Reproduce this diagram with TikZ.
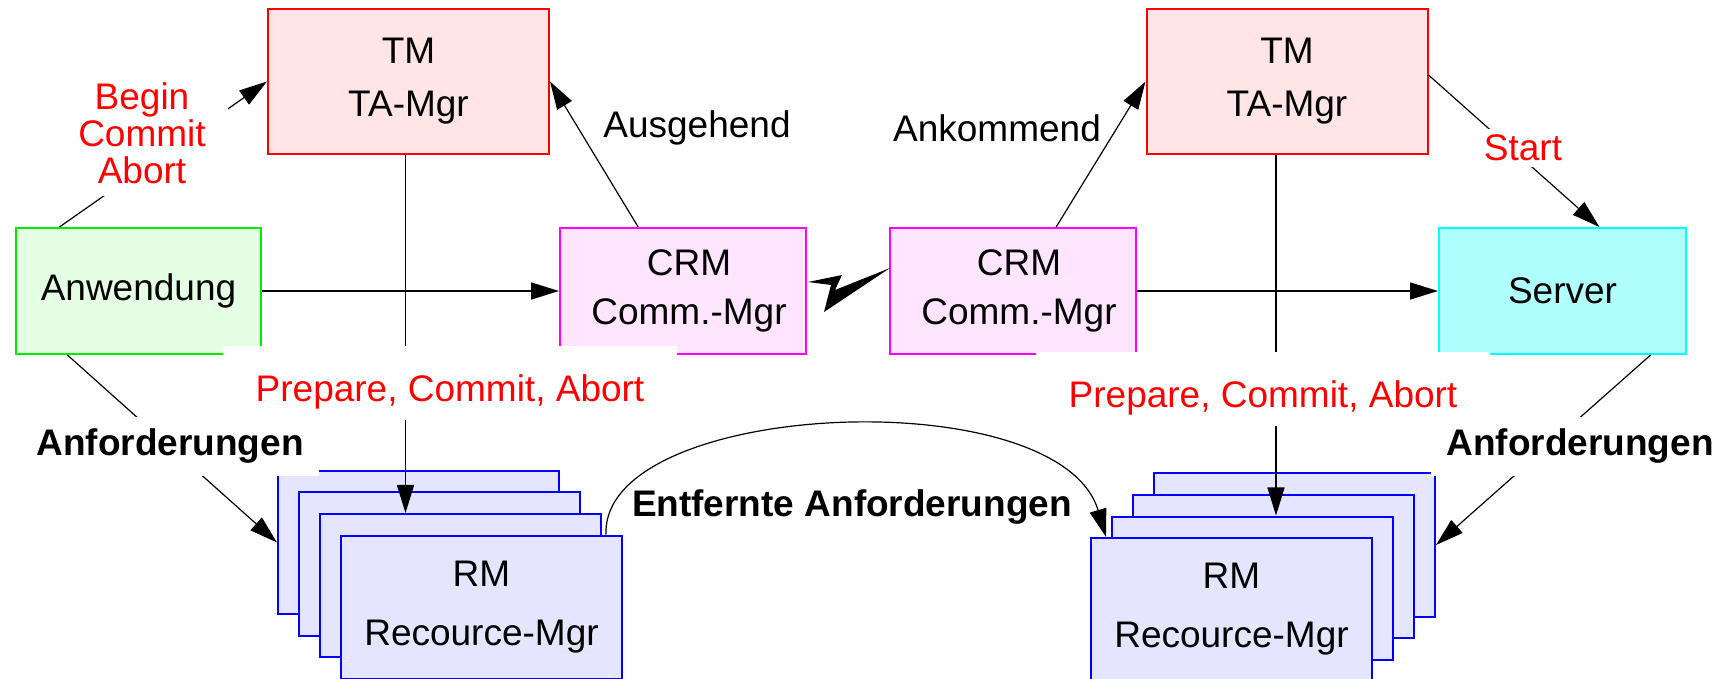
\documentclass[tikz,border=0pt]{standalone}
\usepackage{fontspec}
\setmainfont{Liberation Sans}
\usetikzlibrary{positioning,arrows.meta,calc}
\definecolor{tmfill}{RGB}{255,229,229}
\definecolor{tmdraw}{RGB}{255,0,0}
\definecolor{appfill}{RGB}{229,255,229}
\definecolor{appdraw}{RGB}{0,235,0}
\definecolor{crmfill}{RGB}{255,229,255}
\definecolor{crmdraw}{RGB}{255,0,255}
\definecolor{srvfill}{RGB}{176,255,255}
\definecolor{srvdraw}{RGB}{0,255,255}
\definecolor{rmfill}{RGB}{229,229,255}
\definecolor{rmdraw}{RGB}{0,0,255}
\definecolor{lblred}{RGB}{255,0,0}

\begin{document}
\begin{tikzpicture}[
  x=0.5pt, y=-0.5pt,
  box/.style={draw, line width=1pt, inner sep=0pt, align=center, font=\fontsize{18.5}{24.75}\selectfont},
  tmbox/.style={box, draw=tmdraw, fill=tmfill, minimum width=140.5pt, minimum height=72.5pt, font=\fontsize{18.5}{26.5}\selectfont},
  appbox/.style={box, draw=appdraw, fill=appfill, minimum width=122.5pt, minimum height=63pt},
  crmbox/.style={box, draw=crmdraw, fill=crmfill, minimum width=123pt, minimum height=63pt},
  srvbox/.style={box, draw=srvdraw, fill=srvfill, minimum width=123.5pt, minimum height=63pt},
  rmbox/.style={box, draw=rmdraw, fill=rmfill, minimum width=140.5pt, minimum height=71.5pt, font=\fontsize{18.5}{29.5}\selectfont},
  arr/.style={-{Triangle[length=14pt,width=8.5pt]}, line width=0.8pt},
  slim/.style={arr, line width=0.6pt},
  lbl/.style={font=\fontsize{18.5}{18.5}\selectfont, inner sep=2pt},
  redlbl/.style={lbl, text=lblred, fill=white, inner xsep=16pt, inner ysep=6.5pt},
  pcalbl/.style={redlbl, anchor=base, text height=23pt, text depth=4pt, inner ysep=5pt, inner xsep=16.5pt},
  boldlbl/.style={lbl, font=\fontsize{18.5}{18.5}\selectfont\bfseries, fill=white, inner xsep=7.5pt, inner ysep=6.2pt}
]
\useasboundingbox (0,0) rectangle (1726,679);

\node[tmbox] (tmL) at (408.5,81.5) {TM\\TA-Mgr};
\node[tmbox] (tmR) at (1287,81.5) {TM\\TA-Mgr};
\node[appbox] (app) at (138.5,291) {Anwendung};
\node[crmbox] (crmL) at (683,291) {\hspace*{6pt}CRM\\\hspace*{6pt}Comm.-Mgr};
\node[crmbox] (crmR) at (1013,291) {\hspace*{6pt}CRM\\\hspace*{6pt}Comm.-Mgr};
\node[srvbox] (srv) at (1562.5,291) {Server};

\node[rmbox] (rmL1) at (418.5,542.5) {};
\node[rmbox] (rmL2) at (439.5,564) {};
\node[rmbox] (rmL3) at (460.5,585.5) {};
\node[rmbox] (rmL4) at (481.5,607) {RM\\Recource-Mgr};
\node[rmbox] (rmR1) at (1294.5,545) {};
\node[rmbox] (rmR2) at (1273.5,566.5) {};
\node[rmbox] (rmR3) at (1252.5,588) {};
\node[rmbox] (rmR4) at (1231.5,609.5) {RM\\Recource-Mgr};

\draw[arr] (app) -- (crmL);
\draw[arr] (crmR) -- (srv);
\draw[slim] (app.141) -- (tmL.west);
\draw[slim] (crmL.125) -- (tmL.east);
\draw[slim] (crmR.56) -- (tmR.west);
\draw[slim] (tmR.east |- 0,75) -- (srv.60);
\draw[slim] (app.222) -- (rmL1.west);
\draw[slim] (srv.-36) -- (rmR1.east);
\draw[arr] ([xshift=-1.5pt]tmL.south) -- ([xshift=-1.5pt]tmL.south |- rmL3.north);
\draw[arr] ([xshift=-5.5pt]tmR.south) -- ([xshift=-5.5pt]tmR.south |- rmR3.north);
\draw[slim] ([xshift=-8.5pt]rmL4.north east) .. controls +(-5,-135) and +(-47,-158) .. ([xshift=8pt]rmR4.north west);
\fill ($(crmL.east)+(1,-9)$) -- ++(34,-7) -- ++(-7,15) -- ($(crmR.west)+(1,-23)$)
  -- ($(crmL.east)+(17,21)$) -- ++(7,-27) -- cycle;

\node[redlbl, align=center, inner xsep=11pt, inner ysep=6pt] (bca) at (142,133) {Begin\\Commit\\Abort};
\node[lbl] (ausg) at (697,128) {Ausgehend};
\node[lbl] (ankm) at (997,128) {Ankommend};
\node[redlbl, inner xsep=8pt, inner ysep=3pt] (start) at (1523,148) {Start};
\node[pcalbl] (pcaL) at (450,402) {Prepare, Commit, Abort};
\node[pcalbl] (pcaR) at (1263,408) {Prepare, Commit, Abort};
\node[boldlbl] (anfL) at (170,446.5) {Anforderungen};
\node[boldlbl] (anfR) at (1580,446.5) {Anforderungen};
\node[lbl, font=\fontsize{18.5}{18.5}\selectfont\bfseries] (entf) at (852,507) {Entfernte Anforderungen};
\end{tikzpicture}
\end{document}
